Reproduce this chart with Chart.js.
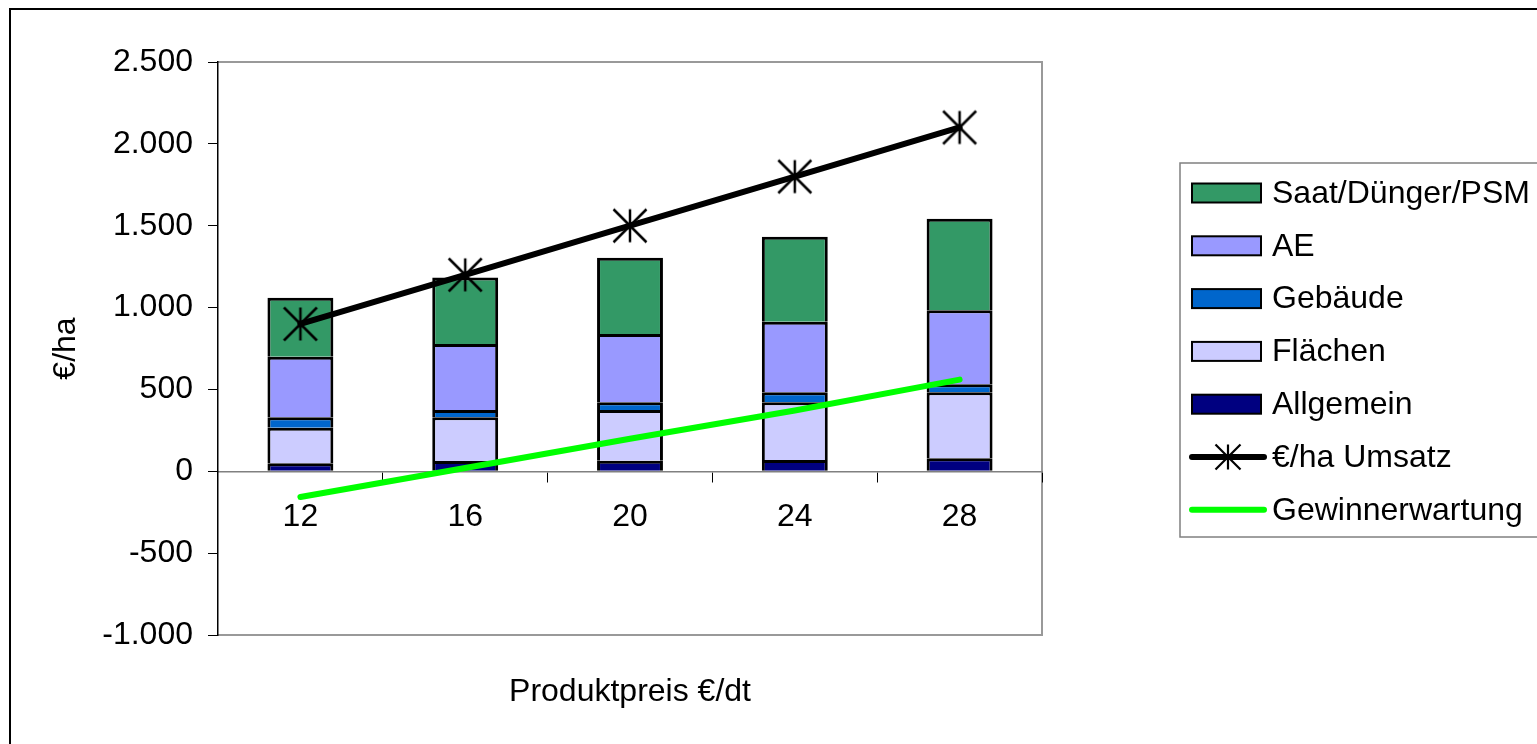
<!DOCTYPE html>
<html><head><meta charset="utf-8">
<script src="https://cdn.jsdelivr.net/npm/chart.js@4"></script>
<style>html,body{margin:0;padding:0;background:#fff;overflow:hidden}canvas{display:block}</style>
</head><body>
<canvas id="c" width="1537" height="744"></canvas>
<script>
// Produktpreis in €/dt
const preise = ['12', '16', '20', '24', '28'];
// Kostenblöcke €/ha (von unten nach oben gestapelt)
const allgemein = [49, 63, 65, 69, 79];
const flaechen = [217, 267, 309, 352, 404];
const gebaeude = [64, 44, 47, 62, 48];
const ae = [370, 404, 418, 431, 452];
const saat = [360, 405, 465, 518, 560];
// Linien
const umsatz = [900, 1200, 1500, 1800, 2100];
const gewinn = [-157, 20, 199, 371, 560];
// y-Achse
const yMin = -1000, yMax = 2500, yStep = 500;

const FONT = "'Liberation Sans', Arial, Helvetica, sans-serif";
const font32 = {family: FONT, size: 32, lineHeight: 1};
const de = new Intl.NumberFormat('de-DE');

function asterisk(r, w){
  const s = Math.ceil(2*r + w + 2);
  const c = document.createElement('canvas');
  c.width = s; c.height = s;
  const g = c.getContext('2d');
  const m = s/2;
  g.strokeStyle = '#000'; g.lineWidth = w;
  g.beginPath();
  g.moveTo(m, m-r); g.lineTo(m, m+r);
  g.moveTo(m-r, m-r); g.lineTo(m+r, m+r);
  g.moveTo(m+r, m-r); g.lineTo(m-r, m+r);
  g.stroke();
  return c;
}
const starBig = asterisk(16.5, 2.5);
const starSmall = asterisk(12.5, 2.2);

const legendItems = [
  {text:'Saat/Dünger/PSM', kind:'box', color:'#339966'},
  {text:'AE', kind:'box', color:'#9999FF'},
  {text:'Gebäude', kind:'box', color:'#0066CC'},
  {text:'Flächen', kind:'box', color:'#CCCCFF'},
  {text:'Allgemein', kind:'box', color:'#000080'},
  {text:'€/ha Umsatz', kind:'star', color:'#000'},
  {text:'Gewinnerwartung', kind:'line', color:'#00FF00'}
];

const frame = {
  id: 'frame',
  beforeDraw(chart){
    const {ctx, chartArea: a} = chart;
    ctx.save();
    ctx.strokeStyle = '#999999'; ctx.lineWidth = 2;
    ctx.beginPath();
    ctx.moveTo(a.left, a.top); ctx.lineTo(a.right, a.top);
    ctx.lineTo(a.right, a.bottom); ctx.lineTo(a.left, a.bottom);
    ctx.stroke();
    ctx.restore();
  },
  afterDraw(chart){
    const {ctx, chartArea: a} = chart;
    ctx.save();
    // äußerer Rahmen
    ctx.strokeStyle = '#000'; ctx.lineWidth = 2;
    ctx.beginPath();
    ctx.moveTo(10, 760); ctx.lineTo(10, 9); ctx.lineTo(1560, 9);
    ctx.stroke();
    // x-Achsentitel
    ctx.fillStyle = '#000';
    ctx.font = '32px ' + FONT;
    ctx.textAlign = 'center'; ctx.textBaseline = 'alphabetic';
    ctx.fillText('Produktpreis €/dt', (a.left + a.right)/2, 701);
    // Legende
    ctx.strokeStyle = '#808080'; ctx.lineWidth = 1.5;
    ctx.strokeRect(1180, 163, 400, 374);
    const y0 = 193, dy = 52.8;
    legendItems.forEach((it, i) => {
      const y = y0 + i*dy;
      if (it.kind === 'box'){
        ctx.fillStyle = it.color;
        ctx.fillRect(1192, y-9.5, 69, 19);
        ctx.strokeStyle = '#000'; ctx.lineWidth = 2;
        ctx.strokeRect(1192, y-9.5, 69, 19);
      } else {
        ctx.strokeStyle = it.color; ctx.lineWidth = 6; ctx.lineCap = 'round';
        ctx.beginPath(); ctx.moveTo(1192, y); ctx.lineTo(1264, y); ctx.stroke();
        if (it.kind === 'star') ctx.drawImage(starSmall, 1228 - starSmall.width/2, y - starSmall.height/2);
      }
      ctx.fillStyle = '#000';
      ctx.textAlign = 'left'; ctx.textBaseline = 'middle';
      ctx.fillText(it.text, 1272, y + 1);
    });
    ctx.restore();
  }
};

const barBase = {borderColor: '#000', borderWidth: 3, borderSkipped: 'start', order: 1,
                 categoryPercentage: 1, barPercentage: 0.4};

new Chart(document.getElementById('c').getContext('2d'), {
  type: 'bar',
  data: {
    labels: preise,
    datasets: [
      {...barBase, label: 'Allgemein', data: allgemein, backgroundColor: '#000080'},
      {...barBase, label: 'Flächen', data: flaechen, backgroundColor: '#CCCCFF'},
      {...barBase, label: 'Gebäude', data: gebaeude, backgroundColor: '#0066CC'},
      {...barBase, label: 'AE', data: ae, backgroundColor: '#9999FF'},
      {...barBase, label: 'Saat/Dünger/PSM', data: saat, backgroundColor: '#339966'},
      {type: 'line', label: '€/ha Umsatz', data: umsatz, stack: 'u', order: 0,
       borderColor: '#000', borderWidth: 6, borderCapStyle: 'round', fill: false, tension: 0,
       pointStyle: starBig, pointRadius: 16},
      {type: 'line', label: 'Gewinnerwartung', data: gewinn, stack: 'g', order: 0,
       borderColor: '#00FF00', borderWidth: 6, borderCapStyle: 'round', fill: false, tension: 0,
       pointRadius: 0}
    ]
  },
  options: {
    responsive: false,
    animation: false,
    layout: {padding: {left: 10, top: 62, right: 495, bottom: 109}},
    plugins: {legend: {display: false}, tooltip: {enabled: false}},
    scales: {
      x: {
        stacked: true,
        position: {y: 0},
        grid: {drawOnChartArea: false, drawTicks: true, tickLength: 10, color: '#000', offset: true},
        border: {color: '#808080', width: 1.5},
        ticks: {font: font32, color: '#000', padding: 20, maxRotation: 0}
      },
      y: {
        stacked: true,
        min: yMin, max: yMax,
        ticks: {stepSize: yStep, font: font32, color: '#000', padding: 15,
                callback: v => de.format(v)},
        grid: {drawOnChartArea: false, tickLength: 10, color: '#000'},
        border: {color: '#000', width: 1.5},
        title: {display: true, text: '€/ha', font: font32, color: '#000', padding: {top: 40, bottom: 0}},
        afterFit: s => { s.width = 208; }
      }
    }
  },
  plugins: [frame]
});
</script>
</body></html>
